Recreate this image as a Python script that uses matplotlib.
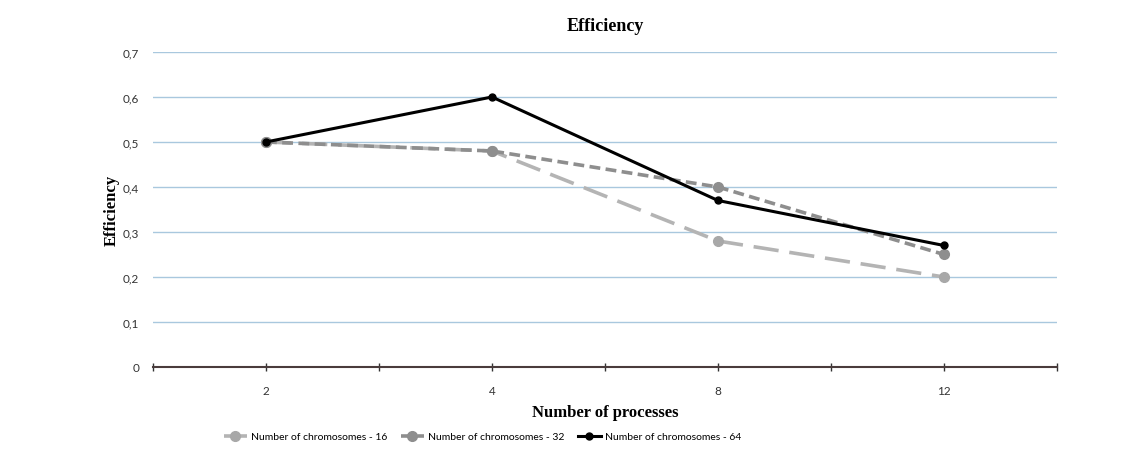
import matplotlib
matplotlib.use("Agg")
import matplotlib.pyplot as plt
from matplotlib.ticker import FuncFormatter, MultipleLocator
import numpy as np

# data
processes = ['2', '4', '8', '12']
eff_16 = [0.50, 0.48, 0.28, 0.20]
eff_32 = [0.50, 0.48, 0.40, 0.25]
eff_64 = [0.50, 0.60, 0.37, 0.27]
labels = ['Number of chromosomes - 16', 'Number of chromosomes - 32', 'Number of chromosomes - 64']

fig = plt.figure(figsize=(11.38, 4.56), dpi=100)
ax = fig.add_axes([0.1344, 0.193, 0.7944, 0.6908])

x = np.arange(len(processes))
ax.plot(x, eff_16, color='#b4b4b4', lw=2.6, dashes=(7, 3), marker='o', ms=7,
        mfc='#a8a8a8', mec='#a8a8a8', label=labels[0])
ax.plot(x, eff_32, color='#8e8e8e', lw=2.6, dashes=(3, 1.5), marker='o', ms=7,
        mfc='#8e8e8e', mec='#8e8e8e', label=labels[1])
ax.plot(x, eff_64, color='black', lw=2.2, marker='o', ms=5,
        mfc='black', mec='black', label=labels[2])

ax.set_xlim(-0.5, 3.5)
ax.set_ylim(0, 0.7)
ax.xaxis.set_major_locator(MultipleLocator(0.5))
ax.xaxis.set_major_formatter(FuncFormatter(
    lambda v, p: processes[int(round(v))] if abs(v - round(v)) < 1e-6 and 0 <= round(v) < len(processes) else ''))
ax.yaxis.set_major_locator(MultipleLocator(0.1))
ax.yaxis.set_major_formatter(FuncFormatter(
    lambda v, p: '0' if abs(v) < 1e-9 else ('%.1f' % v).replace('.', ',')))

ax.grid(axis='y', color='#a9c8de', lw=1)
ax.set_axisbelow(True)
for s in ['top', 'right', 'left']:
    ax.spines[s].set_visible(False)
ax.spines['bottom'].set_color('#4a3c3c')
ax.spines['bottom'].set_linewidth(1.5)
ax.tick_params(axis='x', direction='inout', length=6, width=1, color='#333333',
               labelsize=8.5, pad=10, labelcolor='#333333')
ax.tick_params(axis='y', length=0, labelsize=8.5, pad=10, labelcolor='#333333')
for t in ax.get_xticklabels() + ax.get_yticklabels():
    t.set_family('Lato')

ax.set_title('Efficiency', fontsize=13, fontweight='bold', family='Liberation Serif', pad=16)
ax.set_ylabel('Efficiency', fontsize=12, fontweight='bold', family='Liberation Serif', labelpad=2)
ax.set_xlabel('Number of processes', fontsize=12, fontweight='bold', family='Liberation Serif', labelpad=6)

fig.legend(loc='center', bbox_to_anchor=(0.424, 0.04), ncol=3, frameon=False,
           prop={'family': 'Lato', 'size': 7.5}, handlelength=2.2, handletextpad=0.4,
           columnspacing=1.3)

fig.savefig('out.png', dpi=100)
